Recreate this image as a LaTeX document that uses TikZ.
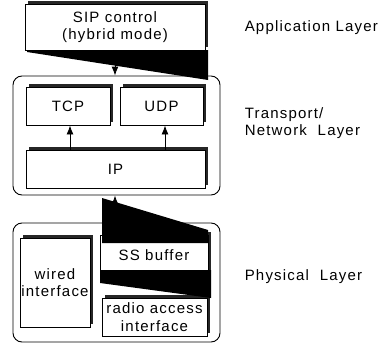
\documentclass[tikz,border=0pt]{standalone}
\usepackage{fontspec}
\setmainfont[LetterSpace=8]{Liberation Sans}
\usetikzlibrary{shadows,arrows.meta}

\begin{document}
\begin{tikzpicture}[x=1pt,y=-1pt,line width=0.9pt,font=\fontsize{15}{17.5}\selectfont]
  \tikzstyle{layer}=[draw=black,rounded corners=9pt,minimum width=207pt]
  \tikzstyle{proto}=[draw=black,fill=white,align=center,inner sep=1pt,general shadow={fill=black!85,shadow xshift=3pt,shadow yshift=3pt}]
  \tikzstyle{blot}=[fill=black]
  \tikzstyle{side}=[anchor=west,align=left]
  \tikzstyle{up}=[-{Latex[length=9pt,width=7pt]}]

  \useasboundingbox (0,0) rectangle (381,348);

  % layer frames
  \node[layer,minimum height=119pt]   (transport) at (116.5,135.5) {};
  \node[layer,minimum height=119pt]   (physical)  at (116.5,282.5) {};

  % protocol boxes
  \node[proto,minimum width=180pt,minimum height=46pt] (sip) at (115,27)
        {SIP control\\(hybrid mode)};
  \node[proto,minimum width=84pt,minimum height=38pt]  (tcp) at (68,106)  {TCP};
  \node[proto,minimum width=83pt,minimum height=38pt]  (udp) at (161.5,106) {UDP};
  \node[proto,minimum width=179pt,minimum height=38pt] (ip)  at (115.5,169) {IP};
  \node[proto,minimum width=70pt,minimum height=89pt]  (wired) at (55,282.5)
        {wired\\interface};
  \node[proto,minimum width=108pt,minimum height=40pt] (ssbuf) at (154,255) {SS buffer};
  \node[proto,minimum width=105pt,minimum height=38pt] (radio) at (154.5,317)
        {radio access\\interface};

  % dark wedges
  \fill[blot] (27,50) -- (208,50) -- (208,80) -- (27,52) -- cycle;
  \fill[blot] (102,198) -- (208,230) -- (208,243) -- (102,243) -- cycle;
  \fill[blot] (100,270) -- (211,270) -- (211,298) -- (100,283) -- cycle;

  \path[up] (sip.south) edge (sip.south |- transport.north);
  \path[up] (ip.north -| 70,0) edge (tcp.south -| 70,0);
  \path[up] (ip.north -| 165,0) edge (udp.south -| 165,0);
  \path[up] (physical.north -| sip.south) edge (transport.south -| sip.south);

  % layer names
  \node[side] (app)  at (241,28)  {Application Layer};
  \node[side] (tnl)  at (241,123) {Transport/\\Network\ \ Layer};
  \node[side] (phy)  at (241,277) {Physical\ \ Layer};
\end{tikzpicture}
\end{document}
